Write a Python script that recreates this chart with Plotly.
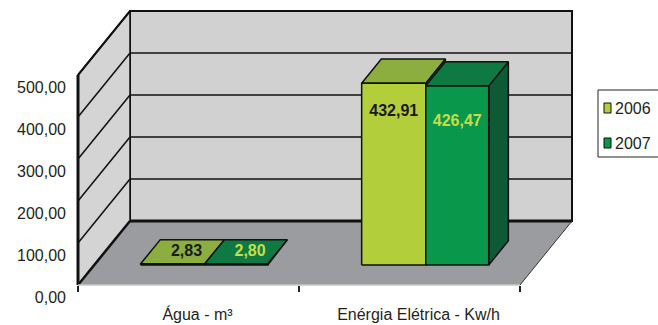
import plotly.graph_objects as go

# ---------------- data ----------------
categories = ["Água - m³", "Enérgia Elétrica - Kw/h"]
series_names = ["2006", "2007"]
values_2006 = [2.83, 432.91]
values_2007 = [2.80, 426.47]
y_ticks = [0, 100, 200, 300, 400, 500]

series_values = [values_2006, values_2007]

# ---------------- styling / geometry ----------------
W, H = 658, 325
ML, MR, MT, MB = 60, 70, 5, 30
OX_PX, OY_PX = 78, 285          # pixel position of (category 0, value 0) on the front edge
PX_PER_CAT = 221.0
PX_PER_VAL = 0.42
plot_w = W - ML - MR
plot_h = H - MT - MB
x_min = -(OX_PX - ML) / PX_PER_CAT
x_max = (W - MR - OX_PX) / PX_PER_CAT
y_min = -(H - MB - OY_PX) / PX_PER_VAL
y_max = (OY_PX - MT) / PX_PER_VAL

DX = 52 / PX_PER_CAT            # full depth of the chart box
DY = 64 / PX_PER_VAL
F0, F1 = 0.3125, 0.69           # bar front / back depth fraction
BAR_W = [0.29, 0.285]

FONT = "Liberation Sans, Arial, sans-serif"
TXT = "#231F20"
front_col = ["#B3CE3B", "#08974B"]
top_col = ["#8BAE3F", "#0F7943"]
side_col = ["#6E8E2E", "#0E5A36"]
label_col = ["#1A1A1A", "#C8DC48"]
LABEL_DROP_PX = [29, 36]

n_cat = len(categories)
v_top = max(y_ticks)

fig = go.Figure()


def poly(xs, ys, fill, lw=1.5, lc="#111111"):
    fig.add_trace(go.Scatter(x=list(xs) + [xs[0]], y=list(ys) + [ys[0]], mode="lines",
                             fill="toself", fillcolor=fill, line=dict(color=lc, width=lw),
                             hoverinfo="skip", showlegend=False))


def seg(xs, ys, color="#111111", width=1.5):
    fig.add_trace(go.Scatter(x=xs, y=ys, mode="lines", line=dict(color=color, width=width),
                             hoverinfo="skip", showlegend=False))


# walls and floor
poly([DX, n_cat + DX, n_cat + DX, DX], [DY, DY, v_top + DY, v_top + DY], "#D1D1D1", lw=2)
poly([0, DX, DX, 0], [0, DY, v_top + DY, v_top], "#D4D4D4", lw=1.5)
poly([0, n_cat, n_cat + DX, DX], [0, 0, DY, DY], "#9B9CA0", lw=0.01, lc="#9B9CA0")

# gridlines
for v in y_ticks[1:-1]:
    seg([DX, n_cat + DX], [v + DY, v + DY], width=1.5)
    seg([0, DX], [v, v + DY], width=1.5)
seg([0, DX, n_cat + DX, n_cat + DX], [v_top, v_top + DY, v_top + DY, DY], width=2)
seg([DX, n_cat + DX], [DY, DY], width=3)
seg([0, DX], [0, DY], width=2.5)
seg([0, 0], [0, v_top], width=3)
seg([n_cat, n_cat + DX], [0, DY], color="#333333", width=1)
seg([0, n_cat], [0, 0], color="#C8C8C8", width=1.5)

# bars
ox, base = F0 * DX, F0 * DY
bdx, bdy = (F1 - F0) * DX, (F1 - F0) * DY
lab_x, lab_y, lab_t, lab_c = [], [], [], []
for i in range(n_cat):
    x0 = i + 0.5 - BAR_W[0]
    for j, vals in enumerate(series_values):
        v = vals[i]
        x1 = x0 + BAR_W[j]
        a, b = x0 + ox, x1 + ox
        poly([b, b + bdx, b + bdx, b], [base, base + bdy, base + v + bdy, base + v], side_col[j])
        poly([a, b, b + bdx, a + bdx], [base + v, base + v, base + v + bdy, base + v + bdy], top_col[j])
        poly([a, b, b, a], [base, base, base + v, base + v], front_col[j])
        if v * PX_PER_VAL < 20:
            lab_x.append((a + b) / 2 + bdx / 2 + 4 / PX_PER_CAT)
            lab_y.append(base + v + bdy / 2)
        else:
            lab_x.append((a + b) / 2)
            lab_y.append(base + v - LABEL_DROP_PX[j] / PX_PER_VAL)
        lab_t.append(f"{v:.2f}".replace(".", ","))
        lab_c.append(label_col[j])
        x0 = x1

fig.add_trace(go.Scatter(x=lab_x, y=lab_y, text=lab_t, mode="text",
                         textfont=dict(family=FONT, size=16, color=lab_c, weight="bold"),
                         hoverinfo="skip", showlegend=False))

# manual legend (outside plot, clipped on the right like the original)
def pxx(px):
    return (px - ML) / plot_w


def pxy(py):
    return (H - MB - py) / plot_h


fig.add_shape(type="rect", xref="paper", yref="paper", x0=pxx(598), x1=pxx(690),
              y0=pxy(157), y1=pxy(90), line=dict(color="#222222", width=1), fillcolor="white")
for j, name in enumerate(series_names):
    cy = 108 + 35 * j
    fig.add_shape(type="rect", xref="paper", yref="paper", x0=pxx(604), x1=pxx(611),
                  y0=pxy(cy + 5), y1=pxy(cy - 5), line=dict(color="#111111", width=1),
                  fillcolor=front_col[j])
    fig.add_annotation(xref="paper", yref="paper", x=pxx(613), y=pxy(cy), text=name,
                       showarrow=False, xanchor="left", yanchor="middle",
                       font=dict(family=FONT, size=16, color=TXT))

fig.update_layout(
    width=W, height=H, autosize=False,
    margin=dict(l=ML, r=MR, t=MT, b=MB, pad=0, autoexpand=False),
    paper_bgcolor="white", plot_bgcolor="white",
    separators=",.",
    showlegend=False,
    font=dict(family=FONT, size=16, color=TXT),
    xaxis=dict(range=[x_min, x_max], showgrid=False, zeroline=False, showline=False,
               automargin=False,
               tickvals=[i + 0.5 for i in range(n_cat)], ticktext=categories, ticks="",
               ticklabelshift=9, ticklabelstandoff=18,
               anchor="free", position=(H - MB - OY_PX) / plot_h,
               minor=dict(tickvals=list(range(n_cat + 1)), ticks="outside", ticklen=6,
                          tickwidth=1.5, tickcolor="#222222"),
               tickfont=dict(family=FONT, size=16, color=TXT)),
    yaxis=dict(range=[y_min, y_max], showgrid=False, zeroline=False, showline=False,
               automargin=False,
               tickvals=y_ticks, tickformat=".2f", ticks="",
               ticklabelshift=12, ticklabelstandoff=12,
               anchor="free", position=(OX_PX - ML) / plot_w,
               tickfont=dict(family=FONT, size=16, color=TXT)),
)

fig.write_html("out.html")
